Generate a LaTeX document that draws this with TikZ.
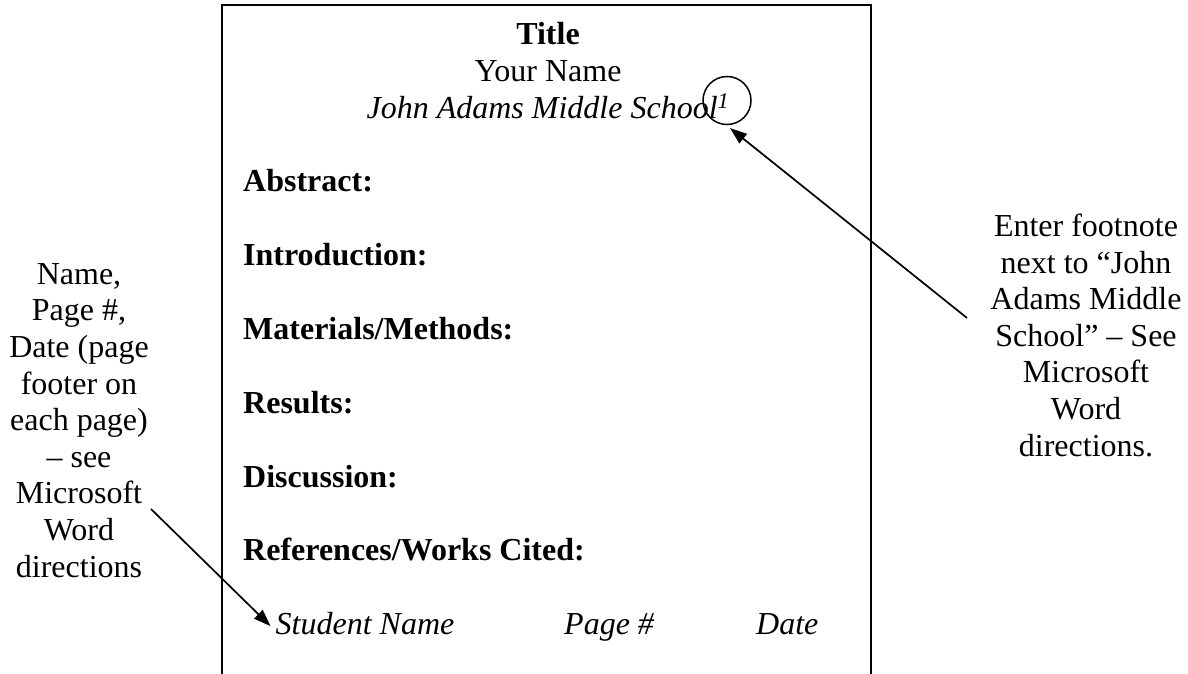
\documentclass[tikz,border=0pt]{standalone}
\usepackage{fontspec}
\setmainfont{Liberation Serif}
\usetikzlibrary{arrows.meta}
\tikzset{
  txt/.style={inner sep=0pt, font=\fontsize{32}{36.6}\selectfont},
  note/.style={txt, align=center, anchor=base},
  head/.style={txt, anchor=base west, font=\fontsize{32}{36.6}\selectfont\bfseries},
  foot/.style={txt, anchor=base west, font=\fontsize{32}{36.6}\selectfont\itshape},
  arr/.style={line width=1.7pt, -{Triangle[length=17pt,width=12pt]}},
  page/.style={line width=2pt}
}
\begin{document}
\begin{tikzpicture}[x=1pt,y=-1pt]
\useasboundingbox (0,0) rectangle (1188,674);
% page outline
\coordinate (bl) at (222,674);
\coordinate (tl) at (222,5);
\coordinate (tr) at (871,5);
\coordinate (br) at (871,674);
\draw[page] (bl) -- (tl) -- (tr) -- (br);
% heading block
\node[txt, anchor=base, font=\fontsize{32}{36.6}\selectfont\bfseries] (title) at (548,45) {Title};
\node[txt, anchor=base] (name) at (548,82) {Your Name};
\node[txt, anchor=base, font=\fontsize{32}{36.6}\selectfont\itshape] (school) at (548,118) {John Adams Middle School\textsuperscript{1}};
\node[draw, circle, line width=1.5pt, minimum size=48pt, inner sep=0pt] (circ) at (727,100.5) {};
% sections
\node[head] (abs) at (243,191) {Abstract:};
\node[head] (intro) at (243,265) {Introduction:};
\node[head] (mat) at (243,339) {Materials/Methods:};
\node[head] (res) at (243,413) {Results:};
\node[head] (disc) at (243,487) {Discussion:};
\node[head] (refs) at (243,560) {References/Works Cited:};
% footer
\node[foot] (stud) at (275.5,634) {Student Name};
\node[foot] (pnum) at (564,634) {Page \#};
\node[foot] (date) at (756,634) {Date};
% notes (anchor base = baseline of last line)
\node[note] (left) at (79,577) {Name,\\Page \#,\\Date (page\\footer on\\each page)\\– see\\Microsoft\\Word\\directions};
\node[note] (right) at (1086,456) {Enter footnote\\next to “John\\Adams Middle\\School” – See\\Microsoft\\Word\\directions.};
% arrows
\coordinate (ltail) at (151,509);
\coordinate (rtail) at (967,318);
\draw[arr] (ltail) -- ([xshift=-5pt,yshift=-3pt]stud.west);
\draw[arr] (rtail) -- ([yshift=-3pt]circ.-83);
\end{tikzpicture}
\end{document}
